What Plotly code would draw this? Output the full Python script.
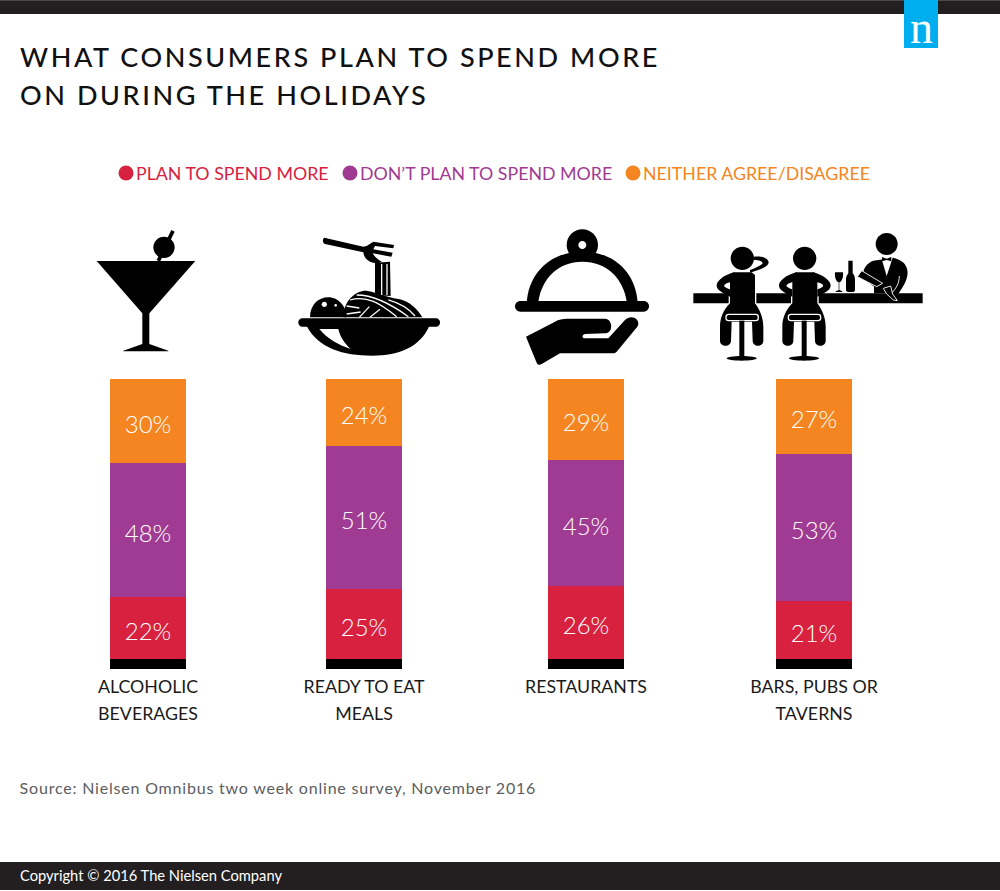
import re
import plotly.graph_objects as go

CATEGORIES = ["ALCOHOLIC<br>BEVERAGES", "READY TO EAT<br>MEALS", "RESTAURANTS", "BARS, PUBS OR<br>TAVERNS"]
PLAN_MORE = [22, 25, 26, 21]
DONT_PLAN = [48, 51, 45, 53]
NEITHER = [30, 24, 29, 27]
SERIES_NAMES = ["PLAN TO SPEND MORE", "DON\u2019T PLAN TO SPEND MORE", "NEITHER AGREE/DISAGREE"]

W, H = 1000, 891
CENTRES = [148, 364, 586, 814]
RED, PURPLE, ORANGE = "#d7213f", "#9f3b93", "#f58520"
DARK = "#231f20"
LABEL_FONT = "Lato"
BASE_BOTTOM = 669
BAR_BOTTOM = 659
BAR_TOP = 379
VALUE_PER_PX = 100 / (BAR_BOTTOM - BAR_TOP)
BASE_VALUE = -(BASE_BOTTOM - BAR_BOTTOM) * VALUE_PER_PX

# The rounded labels of the last column add up to 101; every column is drawn as a full 100% stack.
TOTALS = [a + b + c for a, b, c in zip(PLAN_MORE, DONT_PLAN, NEITHER)]

fig = go.Figure()
for vals, name, col in zip([PLAN_MORE, DONT_PLAN, NEITHER], SERIES_NAMES, [RED, PURPLE, ORANGE]):
    fig.add_bar(x=CENTRES, y=[v * 100 / t for v, t in zip(vals, TOTALS)], width=76, name=name,
                marker=dict(color=col, line=dict(width=0)),
                text=[f"{v}%" for v in vals], textposition="inside", insidetextanchor="middle", textangle=0,
                insidetextfont=dict(family=LABEL_FONT, size=24, color="white", weight=300),
                showlegend=False, hoverinfo="skip")

LEGEND_X = [96, 320, 603]
for i, (name, col) in enumerate(zip(SERIES_NAMES, [RED, PURPLE, ORANGE])):
    fig.add_scatter(x=[None], y=[None], mode="markers", name=name, marker=dict(color=col, size=15),
                    legend="legend" if i == 0 else f"legend{i+1}", showlegend=True)


def P(d, ox=0, oy=0, k=1.0):
    """Convert a path given in picture pixels (optionally crop coords) to paper coordinates."""
    def rep(m):
        x, y = float(m.group(1)), float(m.group(2))
        return f"{(ox + x * k) / W:.5f},{(H - (oy + y * k)) / H:.5f}"
    return re.sub(r"(-?\d+(?:\.\d+)?),\s*(-?\d+(?:\.\d+)?)", rep, d)


shapes = []


def add(d, ox=0, oy=0, k=1.0, fill="black", line=None, lw=0):
    s = dict(type="path", xref="paper", yref="paper", path=P(d, ox, oy, k), line=dict(width=lw, color=line or fill or "white"))
    s["fillcolor"] = fill if fill else "rgba(0,0,0,0)"
    shapes.append(s)


def circle(cx, cy, rx, ry=None):
    ry = ry if ry is not None else rx
    c = 0.5523
    return (f"M {cx-rx},{cy} C {cx-rx},{cy-c*ry} {cx-c*rx},{cy-ry} {cx},{cy-ry} "
            f"C {cx+c*rx},{cy-ry} {cx+rx},{cy-c*ry} {cx+rx},{cy} "
            f"C {cx+rx},{cy+c*ry} {cx+c*rx},{cy+ry} {cx},{cy+ry} "
            f"C {cx-c*rx},{cy+ry} {cx-rx},{cy+c*ry} {cx-rx},{cy} Z")


def rrect(x0, y0, x1, y1, r):
    c = r * 0.45
    return (f"M {x0+r},{y0} L {x1-r},{y0} C {x1-c},{y0} {x1},{y0+c} {x1},{y0+r} "
            f"L {x1},{y1-r} C {x1},{y1-c} {x1-c},{y1} {x1-r},{y1} L {x0+r},{y1} "
            f"C {x0+c},{y1} {x0},{y1-c} {x0},{y1-r} L {x0},{y0+r} C {x0},{y0+c} {x0+c},{y0} {x0+r},{y0} Z")


# page furniture
add("M 0,0 L 1000,0 L 1000,14 L 0,14 Z", fill=DARK)
add("M 0,0 L 1000,0 L 1000,1 L 0,1 Z", fill="#4a4a4a")
add("M 0,862 L 1000,862 L 1000,890 L 0,890 Z", fill=DARK)
add("M 904,0 L 938,0 L 938,48 L 904,48 Z", fill="#00aeef")

# base blocks below each column
for c in CENTRES:
    shapes.append(dict(type="rect", xref="x", yref="y", x0=c - 38, x1=c + 38, y0=BASE_VALUE, y1=0,
                       fillcolor="black", line=dict(width=0)))

# ---- martini (crop coordinates, origin 80,220, 1/3 scale)
A = dict(ox=80, oy=220, k=1 / 3)
add("M 274,30 L 284,35 L 240,125 L 230,120 Z", **A)
add(circle(252, 82, 32), **A)
add("M 50,123 L 346,123 L 208,280 L 208,372 L 265,392 L 265,394 L 130,394 L 130,392 L 187,372 L 187,280 Z", **A)

# ---- spaghetti bowl
add("M 733,53 C 727,57 727,70 735,72 L 850,97 C 852,115 865,125 880,128 L 895,130 L 905,125 "
    "C 895,120 885,112 878,100 L 934,110 L 938,98 L 880,88 L 885,78 L 940,85 L 942,75 L 880,65 L 860,78 L 850,80 Z", **A)
add("M 885,128 L 930,125 L 932,228 L 885,225 Z", **A)
add("M 790,292 C 790,240 830,210 860,212 C 900,220 920,232 960,238 C 990,245 1015,270 1027,292 Z", **A)
add("M 690,292 C 690,255 715,232 745,232 C 775,232 800,260 800,292 Z", **A)
add(rrect(655, 295, 1080, 320, 12), **A)
add("M 680,318 C 715,385 790,407 875,407 C 960,407 1020,380 1048,318 Z", **A)
add("M 718,327 L 775,327 C 780,350 795,372 812,387 C 775,375 740,355 718,327 Z", fill="white", **A)
add(circle(733, 253, 8), fill="white", **A)
add(circle(767, 256, 4), fill="white", **A)
for d in ["M 905,132 L 905,225", "M 921,132 L 921,225",
          "M 810,240 C 860,225 900,250 950,290", "M 830,225 C 880,225 930,250 985,290",
          "M 925,240 C 960,250 990,270 1005,288", "M 800,258 L 838,264", "M 800,282 L 842,276",
          "M 838,292 L 868,260", "M 870,292 L 900,268"]:
    add(d, fill=None, line="white", lw=1.3, **A)

# ---- cloche and hand (origin 500,220)
B = dict(ox=500, oy=220, k=1 / 3)
add(circle(247, 75, 47), **B)
add("M 80,250 C 85,160 150,95 247,95 C 345,95 408,160 413,250 Z", **B)
add("M 115,245 C 125,175 175,125 247,125 C 320,125 370,175 380,245 Z", fill="white", **B)
add(circle(247, 75, 12), fill="white", **B)
add(rrect(45, 243, 447, 275, 16), **B)
add("M 78,350 L 165,305 C 175,298 190,296 200,296 L 315,296 C 340,298 340,340 315,340 L 255,342 C 245,345 245,355 255,355 "
    "L 325,355 L 375,300 C 395,280 425,300 412,320 L 350,395 C 345,400 340,400 335,400 L 180,400 L 125,432 "
    "C 118,436 112,434 110,428 Z", **B)

# ---- bar scene
add("M 580,220 L 1268,220 L 1268,250 L 580,250 Z", **B)


def person(dx, raised):
    add(circle(727 + dx, 115, 35), **B)
    # halo where the torso crosses the counter
    add(f"M {686+dx},218 L {769+dx},218 L {769+dx},252 L {686+dx},252 Z", fill="white", **B)
    # seat-down body and legs
    add(f"M {690+dx},250 C {670+dx},270 {660+dx},295 {660+dx},320 L {660+dx},362 C {660+dx},382 {693+dx},382 {693+dx},362 "
        f"L {695+dx},305 L {756+dx},305 L {758+dx},362 C {758+dx},382 {790+dx},382 {790+dx},362 L {790+dx},320 "
        f"C {790+dx},295 {780+dx},270 {765+dx},250 Z", **B)
    # torso
    add(f"M {700+dx},157 L {755+dx},157 L {765+dx},165 L {765+dx},255 L {690+dx},255 L {690+dx},165 Z", **B)
    # left arm, hand on hip
    add(f"M {702+dx},157 C {670+dx},165 {648+dx},185 {650+dx},198 C {652+dx},212 {670+dx},220 {690+dx},230 L {690+dx},208 "
        f"C {675+dx},203 {665+dx},198 {680+dx},190 L {692+dx},186 Z", **B)
    if raised:
        add(f"M {750+dx},158 C {775+dx},150 {802+dx},142 {806+dx},128 C {806+dx},114 {785+dx},107 {762+dx},110 L {762+dx},120 "
            f"C {780+dx},120 {790+dx},125 {787+dx},132 C {775+dx},140 {765+dx},145 {750+dx},150 Z", **B)
    else:
        add(f"M {753+dx},157 C {785+dx},165 {807+dx},185 {805+dx},198 C {803+dx},212 {785+dx},220 {765+dx},230 L {765+dx},208 "
            f"C {780+dx},203 {790+dx},198 {775+dx},190 L {763+dx},186 Z", **B)
    add(rrect(678 + dx, 283, 775 + dx, 302, 8), line="white", lw=1.3, **B)
    add(f"M {718+dx},302 L {733+dx},302 L {733+dx},410 L {718+dx},410 Z", **B)
    add(circle(725 + dx, 415, 45, 7), **B)


person(0, True)
person(187, False)

# glass and bottle
add("M 1005,157 L 1029,157 C 1031,175 1024,186 1018,187 L 1018,210 L 1027,214 L 1027,216 L 1007,216 L 1007,214 L 1016,210 "
    "L 1016,187 C 1010,186 1003,175 1005,157 Z", **B)
add("M 1045,122 L 1058,122 L 1058,160 C 1064,165 1065,175 1065,180 L 1065,210 C 1065,215 1060,216 1058,216 L 1045,216 "
    "C 1040,216 1038,213 1038,210 L 1038,178 C 1038,170 1042,165 1045,160 Z", **B)

# bartender
add(circle(1160, 72, 33), **B)
add("M 1120,122 C 1100,130 1090,145 1090,160 C 1090,175 1110,190 1122,200 L 1122,220 L 1175,220 L 1190,228 "
    "C 1215,195 1226,170 1222,150 C 1218,130 1205,120 1180,113 Z", **B)
add("M 1144,113 L 1178,113 L 1160,168 Z", fill="white", **B)
add("M 1146,111 L 1160,116 L 1174,111 L 1174,124 L 1160,120 L 1146,124 Z", **B)
add("M 1085,152 L 1072,170 L 1130,200 L 1148,190 Z", line="white", lw=0.9, **B)
add("M 1150,205 L 1172,198 L 1178,222 L 1192,242 L 1180,240 L 1160,222 Z", line="white", lw=0.9, **B)
add("M 1198,168 C 1198,190 1188,205 1176,218", fill=None, line="white", lw=0.9, **B)

annotations = [
    dict(text="Source: Nielsen Omnibus two week online survey, November 2016", x=42 / W, y=(H - 787) / H,
         xref="paper", yref="paper", xanchor="left", yanchor="middle", showarrow=False,
         font=dict(family="Lato", size=16, color="#5c5d60")),
    dict(text="Copyright \u00a9 2016 The Nielsen Company", x=18 / W, y=(H - 875) / H, xref="paper", yref="paper",
         xanchor="left", yanchor="middle", showarrow=False, font=dict(family="Lato", size=14.7, color="white")),
    dict(text="n", x=921 / W, y=(H - 28) / H, xref="paper", yref="paper", xanchor="center", yanchor="middle",
         showarrow=False, font=dict(family="Liberation Serif", size=46, color="white")),
]


def leg(i):
    return dict(x=LEGEND_X[i] / W, y=(H - 155) / H, xanchor="left", yanchor="top", bgcolor="rgba(0,0,0,0)",
                borderwidth=0, font=dict(family=LABEL_FONT, size=17.8, color=[RED, PURPLE, ORANGE][i]))


fig.update_layout(
    width=W, height=H, autosize=False, margin=dict(l=0, r=0, t=0, b=0), paper_bgcolor="white", plot_bgcolor="white",
    barmode="stack", bargap=0,
    title=dict(text="WHAT CONSUMERS PLAN TO SPEND MORE<br>ON DURING THE HOLIDAYS", x=20 / W, xref="paper", xanchor="left",
               y=(H - 67) / H, yref="paper", yanchor="top", font=dict(family="Lato", size=27, color="#111111", weight=500)),
    xaxis=dict(domain=[0, 1], range=[0, W], tickmode="array", tickvals=CENTRES, ticktext=CATEGORIES,
               tickfont=dict(family=LABEL_FONT, size=17.8, color="#1a1a1a"), ticks="", ticklen=0, ticklabelstandoff=5,
               showgrid=False, zeroline=False, showline=False, fixedrange=True),
    yaxis=dict(domain=[(H - BASE_BOTTOM) / H, (H - BAR_TOP) / H], range=[BASE_VALUE, 100], visible=False,
               showgrid=False, zeroline=False, fixedrange=True),
    legend=leg(0), legend2=leg(1), legend3=leg(2),
    shapes=shapes, annotations=annotations,
)

POST = """
var st=document.createElement('style');
st.textContent='body{margin:0;overflow:hidden} .gtitle{letter-spacing:2.6px} .legendsymbols{transform:translateX(10px)}';
document.head.appendChild(st);
document.querySelectorAll('.xtick tspan.line').forEach(function(t){ if(parseFloat(t.getAttribute('dy'))>0){t.setAttribute('dy','1.52em');} });
document.querySelectorAll('.gtitle tspan.line').forEach(function(t){ if(parseFloat(t.getAttribute('dy'))>0){t.setAttribute('dy','1.4em');} });
document.querySelectorAll('.bartext').forEach(function(t){ t.setAttribute('transform',(t.getAttribute('transform')||'')+' translate(0,2)'); });
document.querySelectorAll('.annotation-text').forEach(function(t){
  if(t.textContent.indexOf('Source')===0){t.style.letterSpacing='0.8px';}
});
"""
fig.write_html("out.html", post_script=POST, config={"displayModeBar": False})
